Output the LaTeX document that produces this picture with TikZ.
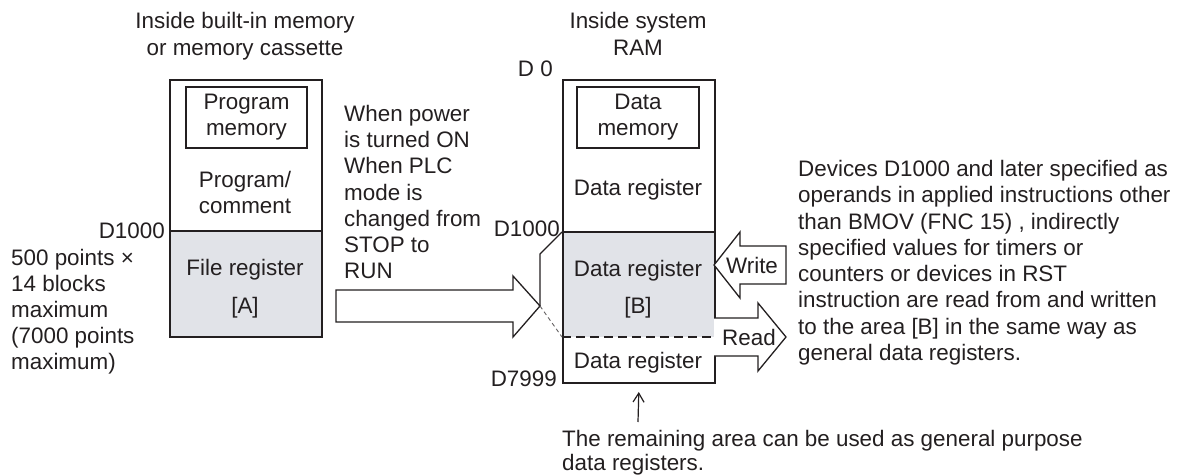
\documentclass[tikz,border=0pt]{standalone}
\usepackage{fontspec}
\setmainfont{Liberation Sans}
\usetikzlibrary{arrows.meta}
\definecolor{ink}{HTML}{231F20}
\definecolor{regshade}{HTML}{E1E3E8}
\begin{document}
\begin{tikzpicture}[x=1pt,y=-1pt,
  every node/.style={text=ink, font=\fontsize{22.4}{26}\selectfont, inner sep=0pt},
  frame/.style={draw=ink, line width=2pt},
  inbox/.style={draw=ink, line width=1.8pt, align=center},
  lbl/.style={anchor=base},
  lblr/.style={anchor=base east},
  para/.style={anchor=north west, align=left},
  blockarrow/.style={draw=ink, line width=1.3pt, fill=white, line join=miter},
  thinline/.style={draw=ink, line width=1.3pt},
  dashdiag/.style={draw=ink!70, line width=0.9pt, dash pattern=on 4pt off 3pt},
  divdash/.style={draw=ink, line width=1.8pt, dash pattern=on 9pt off 5pt},
  uparrow/.style={draw=ink, line width=1.2pt, -{Straight Barb[length=9pt,width=11pt,line width=1.2pt]}}]
\useasboundingbox (0,0) rectangle (1189,476);

% headings
\node[anchor=north, align=center, font=\fontsize{22.4}{27}\selectfont] (hl) at (245,12) {Inside built-in memory\\or memory cassette};
\node[anchor=north, align=center, font=\fontsize{22.4}{27}\selectfont] (hr) at (638,12) {Inside system\\RAM};

% left memory
\fill[regshade] (169,231) rectangle (321,336);
\node[frame, anchor=north west, minimum width=152pt, minimum height=257pt] (lbox) at (169,79) {};
\draw[frame] (169,231) -- (321,231);
\node[inbox, minimum width=121pt, minimum height=61pt] (pm) at (246.5,117.5) {Program\\memory};
\node[align=center] (pc) at (245,192) {Program/\\comment};
\node[lbl] (fr) at (245,275) {File register};
\node[lbl] (fa) at (245,313) {[A]};
\node[lblr] (ld1000) at (165,238) {D1000};
\node[para] (pts) at (11,249) {500 points \texttimes\\14 blocks\\maximum\\(7000 points\\maximum)};

% condition text
\node[para, font=\fontsize{22.4}{26.2}\selectfont] (cond) at (344,105) {When power\\is turned ON\\When PLC\\mode is\\changed from\\STOP to\\RUN};

% big transfer arrow
\draw[blockarrow] (336,290) -- (513,290) -- (513,276) -- (540,306) -- (513,337) -- (513,322) -- (336,322) -- cycle;
\coordinate (tip) at (540,306);
\coordinate (bend) at (540,254);

% right memory
\fill[regshade] (562,232) rectangle (714,337);
\node[frame, anchor=north west, minimum width=152pt, minimum height=303pt] (rbox) at (562,79) {};
\draw[frame] (562,232) -- (714,232);
\draw[divdash] (562,337) -- (714,337);
\node[inbox, minimum width=122pt, minimum height=61pt] (dm) at (638,117.5) {Data\\memory};
\node[lbl] (dr1) at (638,196) {Data register};
\node[lbl] (dr2) at (638,276) {Data register};
\node[lbl] (drb) at (638,313) {[B]};
\node[lbl] (dr3) at (638,368) {Data register};
\node[lblr] (d0) at (553,77) {D 0};
\node[lblr] (rd1000) at (560,236) {D1000};
\node[lblr] (d7999) at (557,386) {D7999};
\coordinate (c1000) at (562,232);
\coordinate (cdash) at (562,337);

% bracket lines from arrow tip
\draw[thinline] (tip) -- (bend) -- (c1000);
\draw[dashdiag] (tip) -- (cdash);

% write / read arrows
\draw[blockarrow] (714,265) -- (740,232) -- (740,246) -- (786,246) -- (786,284) -- (740,284) -- (740,298) -- cycle;
\draw[blockarrow] (714,318) -- (758,318) -- (758,303) -- (786,337) -- (758,371) -- (758,356) -- (714,356);
\node[lbl] (wr) at (752,273) {Write};
\node[lbl] (rd) at (749,345) {Read};

% description
\node[para, font=\fontsize{22.4}{26.3}\selectfont] (desc) at (798,160) {Devices D1000 and later specified as\\operands in applied instructions other\\than BMOV (FNC 15) , indirectly\\specified values for timers or\\counters or devices in RST\\instruction are read from and written\\to the area [B] in the same way as\\general data registers.};

% remaining area note
\coordinate (ua) at (638,422);
\draw[uparrow, shorten >=8pt] (ua) -- (rbox.south);
\node[para, font=\fontsize{22.4}{24}\selectfont] (rem) at (562,430) {The remaining area can be used as general purpose\\data registers.};
\end{tikzpicture}
\end{document}
